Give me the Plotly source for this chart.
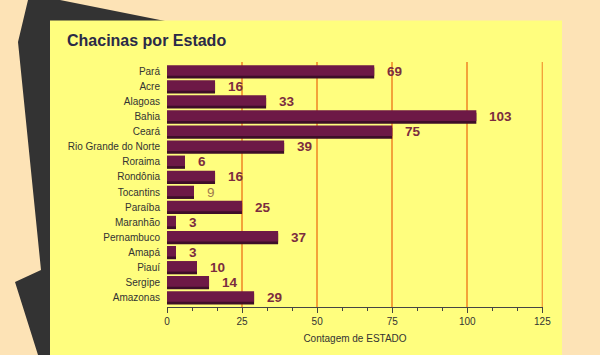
import plotly.graph_objects as go

estados = ["Pará", "Acre", "Alagoas", "Bahia", "Ceará", "Rio Grande do Norte",
           "Roraima", "Rondônia", "Tocantins", "Paraíba", "Maranhão",
           "Pernambuco", "Amapá", "Piauí", "Sergipe", "Amazonas"]
contagem = [69, 16, 33, 103, 75, 39, 6, 16, 9, 25, 3, 37, 3, 10, 14, 29]
x_ticks = [0, 25, 50, 75, 100, 125]

W, H = 600, 355
L, R, T, B = 167, 57, 62, 48
PW, PH = W - L - R, H - T - B

def px(x):
    return (x - L) / PW

def py(y):
    return (H - B - y) / PH

BEIGE = "#FDE3B6"
DARK = "#333333"
YELLOW = "#FFFE7E"
MAROON = "#6D1946"
SHADOW = "#3E0E28"
GRID = "#F3A23A"
LABEL = "#7B2C3F"

fig = go.Figure()
fig.add_trace(go.Bar(
    y=estados, x=contagem, orientation="h",
    marker=dict(color=SHADOW, line=dict(width=0)),
    offset=-0.26, width=0.72, hoverinfo="skip", showlegend=False))
fig.add_trace(go.Bar(
    y=estados, x=contagem, orientation="h",
    marker=dict(color=MAROON, line=dict(width=0)),
    offset=-0.42, width=0.70, showlegend=False))

for est, val in zip(estados, contagem):
    light = (val == 9)
    fig.add_annotation(
        x=val, y=est, xref="x", yref="y", text=str(val), showarrow=False,
        xanchor="left", yanchor="middle", xshift=11,
        font=dict(family="Arial, Liberation Sans, sans-serif", size=13.5,
                  color="#A07A4E" if light else LABEL,
                  weight="normal" if light else "bold"))

poly = [(28, 0), (60, 0), (170, 22), (170, 355), (38, 355), (15, 282),
        (41, 270), (18, 42)]
path = "M " + " L ".join(f"{px(a)},{py(b)}" for a, b in poly) + " Z"

fig.update_layout(
    width=W, height=H,
    margin=dict(l=L, r=R, t=T, b=B, pad=0),
    paper_bgcolor=BEIGE, plot_bgcolor="rgba(0,0,0,0)",
    barmode="overlay",
    font=dict(family="Arial, Liberation Sans, sans-serif", size=10, color="#333333"),
    shapes=[
        dict(type="path", path=path, xref="paper", yref="paper",
             fillcolor=DARK, line=dict(width=0), layer="below"),
        dict(type="rect", xref="paper", yref="paper",
             x0=px(50), x1=px(562), y0=py(20.5), y1=py(360),
             fillcolor=YELLOW, line=dict(width=0), layer="below"),
        dict(type="line", xref="x", yref="paper", x0=x_ticks[-1], x1=x_ticks[-1],
             y0=0, y1=1, line=dict(color=GRID, width=1.5), layer="below"),
    ],
    title=dict(text="<b>Chacinas por Estado</b>", xref="container", yref="container",
               x=67 / W, xanchor="left", y=1 - 40 / H, yanchor="middle",
               font=dict(size=16, color="#2B2A48")),
    xaxis=dict(range=[0, 125.2], tickvals=x_ticks, showgrid=True, gridcolor=GRID,
               gridwidth=1.5, zeroline=True, zerolinecolor=YELLOW, zerolinewidth=2,
               showline=True, linecolor="#444444", linewidth=1,
               ticks="outside", ticklen=5, tickcolor="#444444",
               minor=dict(dtick=25 / 3, ticks="outside", ticklen=3,
                          tickcolor="#444444", showgrid=False),
               tickfont=dict(size=10, color="#333333"),
               title=dict(text="Contagem de ESTADO", font=dict(size=10, color="#333333"),
                          standoff=8),
               fixedrange=True),
    yaxis=dict(autorange="reversed", showgrid=False, zeroline=False, showline=False,
               ticks="", ticklabelstandoff=6,
               tickfont=dict(size=10, color="#333333"), fixedrange=True),
)

fig.write_html("out.html", config={"displayModeBar": False},
               post_script="document.body.style.margin='0';document.body.style.overflow='hidden';")
